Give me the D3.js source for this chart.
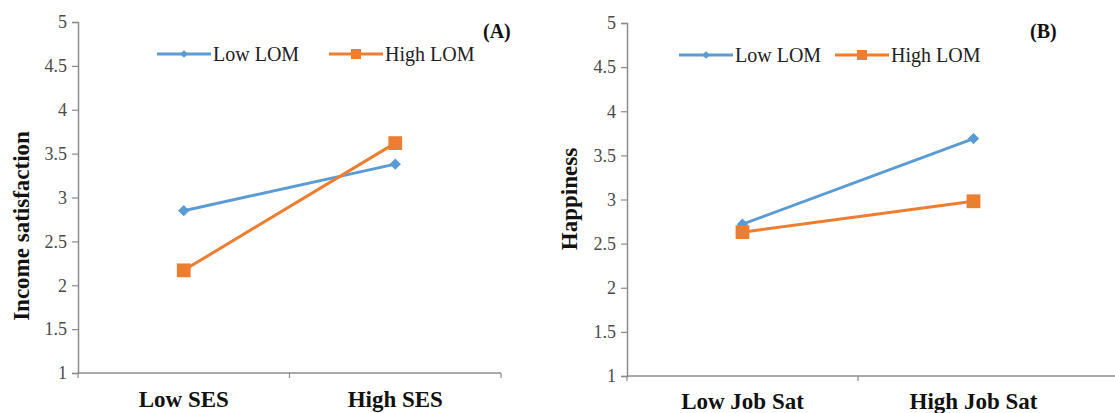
<!DOCTYPE html>
<html>
<head>
<meta charset="utf-8">
<script src="https://cdnjs.cloudflare.com/ajax/libs/d3/7.8.5/d3.min.js"></script>
<style>
	html, body { margin: 0; padding: 0; background: #fff; }
	svg { display: block; }
</style>
</head>
<body>
<svg id="chart" width="1115" height="413"></svg>
<script>
"use strict"

// data
var seriesNames = ["Low LOM", "High LOM"];
var yTicks = [1, 1.5, 2, 2.5, 3, 3.5, 4, 4.5, 5];

var panelALabels = ["Low SES", "High SES"];
var panelALowLOM = [2.85, 3.38];
var panelAHighLOM = [2.17, 3.62];

var panelBLabels = ["Low Job Sat", "High Job Sat"];
var panelBLowLOM = [2.72, 3.69];
var panelBHighLOM = [2.63, 2.98];

var blue = "#5b9bd5";
var orange = "#ed7d31";
var axisColor = "#8c8c8c";
var serif = "'Liberation Serif', 'Times New Roman', serif";

var svg = d3.select("#chart");

// squares; the diamond is the same square turned 45 degrees
function marker(size) {
	return d3.symbol(d3.symbolSquare, size)();
}

function drawPanel(opt) {
	var g = svg.append("g");
	var x = d3.scaleBand()
		.domain(opt.labels)
		.range([opt.left, opt.right]);
	var y = d3.scaleLinear()
		.domain([1, 5])
		.range([opt.bottom, opt.top]);

	// y axis
	var yAxis = g.append("g")
		.attr("transform", "translate(" + opt.left + ",0)")
		.call(d3.axisLeft(y).tickValues(yTicks).tickFormat(function(d) { return d; }).tickSize(6).tickPadding(5));
	yAxis.attr("font-family", serif);
	yAxis.select(".domain").attr("stroke", axisColor).attr("stroke-width", 1.5);
	yAxis.selectAll(".tick line").attr("stroke", axisColor).attr("stroke-width", 1.2);
	yAxis.selectAll(".tick text")
		.style("font-family", serif)
		.attr("fill", "#4a4a4a")
		.attr("font-size", 18);

	// x axis
	g.append("line")
		.attr("x1", opt.left).attr("x2", opt.axisEnd)
		.attr("y1", opt.bottom).attr("y2", opt.bottom)
		.attr("stroke", axisColor).attr("stroke-width", 1.5);
	// category boundary ticks
	var bounds = x.domain().map(function(d) { return x(d); }).concat(opt.tickEnd ? [opt.right] : []);
	g.selectAll(".bnd")
		.data(bounds)
		.enter().append("line")
		.attr("x1", function(d) { return d; }).attr("x2", function(d) { return d; })
		.attr("y1", opt.bottom).attr("y2", opt.bottom + 5)
		.attr("stroke", axisColor).attr("stroke-width", 1.2);
	g.selectAll(".xlab")
		.data(opt.labels)
		.enter().append("text")
		.attr("x", function(d) { return x(d) + x.bandwidth() / 2; })
		.attr("y", opt.labelY)
		.attr("text-anchor", "middle")
		.style("font-family", serif)
		.attr("font-size", 23)
		.attr("font-weight", "bold")
		.attr("fill", "#111")
		.text(function(d) { return d; });

	// y title
	g.append("text")
		.attr("transform", "translate(" + opt.titleX + "," + opt.titleY + ") rotate(-90)")
		.attr("text-anchor", "middle")
		.style("font-family", serif)
		.attr("font-size", 23)
		.attr("font-weight", "bold")
		.attr("fill", "#111")
		.text(opt.yTitle);

	// panel letter
	g.append("text")
		.attr("x", opt.letterX)
		.attr("y", 38)
		.style("font-family", serif)
		.attr("font-size", 20)
		.attr("font-weight", "bold")
		.attr("fill", "#111")
		.text(opt.letter);

	var series = [
		{ name: seriesNames[0], values: opt.low, color: blue, square: false },
		{ name: seriesNames[1], values: opt.high, color: orange, square: true }
	];
	var cx = function(i) { return x(opt.labels[i]) + x.bandwidth() / 2; };
	var line = d3.line()
		.x(function(d, i) { return cx(i); })
		.y(function(d) { return y(d); });

	series.forEach(function(s) {
		g.append("path")
			.attr("d", line(s.values))
			.attr("fill", "none")
			.attr("stroke", s.color)
			.attr("stroke-width", 3);
	});
	series.forEach(function(s) {
		g.selectAll(null)
			.data(s.values)
			.enter().append("path")
			.attr("transform", function(d, i) {
				return "translate(" + cx(i) + "," + y(d) + ")" + (s.square ? "" : " rotate(45)");
			})
			.attr("d", s.square ? marker(190) : marker(64))
			.attr("fill", s.color);
	});

	// legend
	var leg = g.append("g");
	series.forEach(function(s, i) {
		var lx = opt.legendX[i];
		leg.append("line")
			.attr("x1", lx).attr("x2", lx + 54)
			.attr("y1", opt.legendY).attr("y2", opt.legendY)
			.attr("stroke", s.color).attr("stroke-width", 3);
		leg.append("path")
			.attr("transform", "translate(" + (lx + 27) + "," + opt.legendY + ")" + (s.square ? "" : " rotate(45)"))
			.attr("d", s.square ? marker(100) : marker(30))
			.attr("fill", s.color);
		leg.append("text")
			.attr("x", lx + 56)
			.attr("y", opt.legendY + 7)
			.style("font-family", serif)
			.attr("font-size", 20)
			.attr("fill", "#222")
			.text(s.name);
	});
}

drawPanel({
	labels: panelALabels, low: panelALowLOM, high: panelAHighLOM,
	left: 78, right: 501, axisEnd: 501, tickEnd: true, top: 22, bottom: 373,
	labelY: 407, yTitle: "Income satisfaction", titleX: 29, titleY: 226,
	letter: "(A)", letterX: 483, legendX: [157, 329], legendY: 54
});

drawPanel({
	labels: panelBLabels, low: panelBLowLOM, high: panelBHighLOM,
	left: 627, right: 1089, axisEnd: 1115, tickEnd: false, top: 23, bottom: 376,
	labelY: 409, yTitle: "Happiness", titleX: 577, titleY: 199,
	letter: "(B)", letterX: 1030, legendX: [679, 835], legendY: 55
});
</script>
</body>
</html>
